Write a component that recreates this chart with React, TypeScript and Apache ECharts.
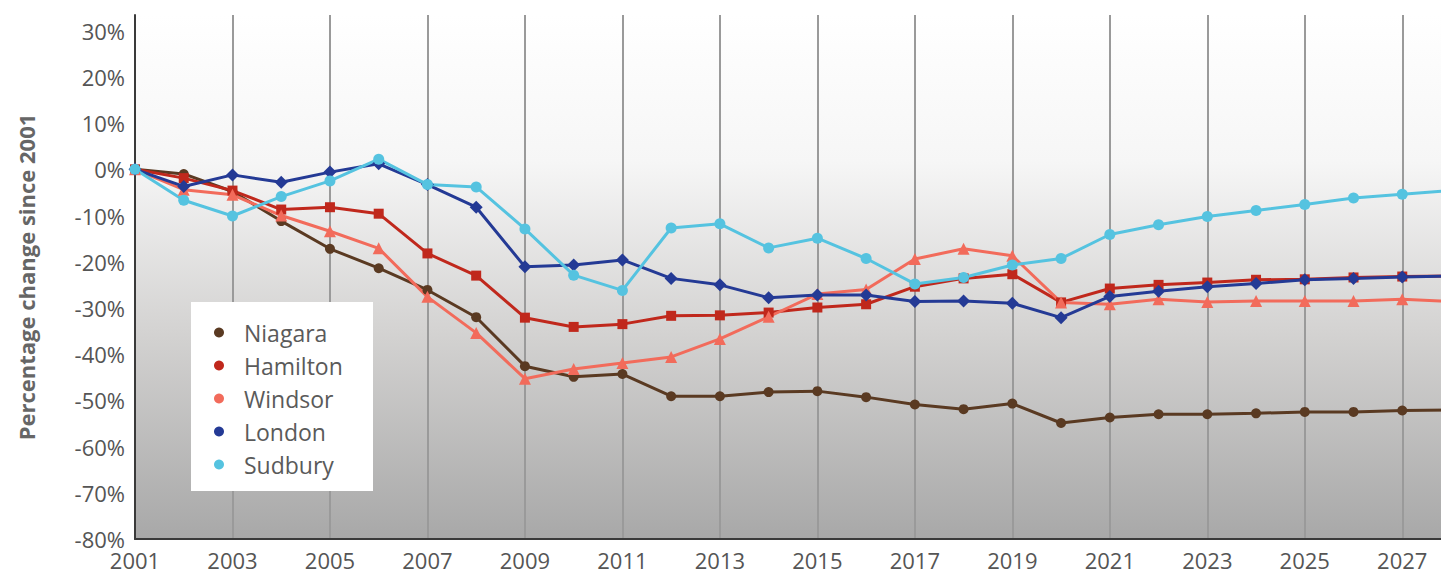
import React, { useEffect, useRef } from "react";
import * as echarts from "echarts";

const years = ["2001","2002","2003","2004","2005","2006","2007","2008","2009","2010","2011","2012","2013","2014","2015","2016","2017","2018","2019","2020","2021","2022","2023","2024","2025","2026","2027","2028"];

const niagara = [0, -1.0, -4.8, -11.2, -17.2, -21.4, -26.1, -32.0, -42.6, -44.9, -44.3, -49.1, -49.1, -48.2, -48.0, -49.3, -50.9, -51.9, -50.7, -54.9, -53.7, -53.0, -53.0, -52.8, -52.5, -52.5, -52.2, -52.1];
const hamilton = [0, -1.9, -4.6, -8.7, -8.2, -9.6, -18.2, -23.0, -32.1, -34.1, -33.5, -31.7, -31.6, -31.0, -29.9, -29.2, -25.4, -23.6, -22.7, -28.8, -25.8, -25.0, -24.5, -23.9, -23.8, -23.4, -23.2, -23.1];
const windsor = [0, -4.4, -5.5, -10.0, -13.4, -17.1, -27.6, -35.4, -45.3, -43.2, -41.9, -40.6, -36.7, -31.9, -27.0, -26.0, -19.4, -17.2, -18.7, -28.8, -29.2, -28.1, -28.7, -28.5, -28.5, -28.5, -28.1, -28.6];
const london = [0, -3.7, -1.2, -2.8, -0.6, 1.2, -3.3, -8.2, -21.1, -20.7, -19.6, -23.6, -25.0, -27.8, -27.2, -27.2, -28.6, -28.5, -29.0, -32.1, -27.5, -26.4, -25.4, -24.7, -23.9, -23.6, -23.3, -23.1];
const sudbury = [0, -6.7, -10.1, -5.9, -2.5, 2.2, -3.3, -3.8, -12.9, -22.9, -26.2, -12.7, -11.8, -17.0, -14.9, -19.3, -24.8, -23.4, -20.7, -19.3, -14.1, -12.0, -10.2, -8.9, -7.6, -6.2, -5.4, -4.6];

const seriesNames = ["Niagara", "Hamilton", "Windsor", "London", "Sudbury"];
const seriesColors = ["#5a3a22", "#c0281c", "#f26b5b", "#243a95", "#55c3e0"];
const seriesSymbols = ["circle", "rect", "triangle", "diamond", "circle"];
const seriesSizes = [10, 10, 12, 13, 11];
const seriesData = [niagara, hamilton, windsor, london, sudbury];

const FONT = "'Open Sans', 'Noto Sans', sans-serif";

export default function App() {
  const ref = useRef<HTMLDivElement>(null);
  useEffect(() => {
    if (!ref.current) return;
    const chart = echarts.init(ref.current, undefined, { renderer: "svg" });
    chart.setOption({
      animation: false,
      backgroundColor: "#ffffff",
      textStyle: { fontFamily: FONT },
      grid: {
        left: 135,
        right: 0,
        top: 15,
        bottom: 37,
        show: true,
        borderWidth: 0,
        backgroundColor: new echarts.graphic.LinearGradient(0, 0, 0, 1, [
          { offset: 0, color: "#ffffff" },
          { offset: 0.28, color: "#f6f6f6" },
          { offset: 0.6, color: "#d4d3d2" },
          { offset: 1, color: "#a8a8a8" },
        ]),
      },
      graphic: [
        {
          type: "rect",
          z: 3,
          shape: { x: 191, y: 302, width: 182, height: 189 },
          style: { fill: "#ffffff" },
        },
      ],
      legend: {
        orient: "vertical",
        left: 191,
        top: 302,
        padding: [19, 8, 19, 23],
        itemWidth: 10,
        itemHeight: 10,
        itemGap: 10,
        z: 4,
        icon: "circle",
        textStyle: { fontSize: 23, color: "#5a5a5a", fontFamily: FONT, lineHeight: 22, padding: [0, 0, 0, 15] },
        data: seriesNames.map((n) => ({ name: n, icon: "circle" })),
      },
      xAxis: {
        type: "category",
        data: years,
        boundaryGap: false,
        axisLine: { show: true, onZero: false, lineStyle: { color: "#3a3a3a", width: 2 } },
        axisTick: { show: false },
        axisLabel: { interval: 1, fontSize: 22, color: "#555555", margin: 10, fontFamily: FONT },
        splitLine: { show: true, interval: 1, lineStyle: { color: "#9a9a9a", width: 2 } },
      },
      yAxis: {
        type: "value",
        min: -80,
        max: 33.4,
        interval: 10,
        name: "Percentage change since 2001",
        nameLocation: "middle",
        nameGap: 98,
        nameTextStyle: { fontSize: 22, fontWeight: "bold", color: "#666666", fontFamily: FONT },
        axisLine: { show: true, lineStyle: { color: "#3a3a3a", width: 2 } },
        axisTick: { show: false },
        splitLine: { show: false },
        axisLabel: {
          fontSize: 22,
          color: "#555555",
          margin: 10,
          fontFamily: FONT,
          formatter: (v: number) => (Math.abs(v % 10) < 1e-6 ? `${v}%` : ""),
        },
      },
      series: seriesNames.map((name, i) => ({
        name,
        type: "line",
        data: seriesData[i],
        symbol: seriesSymbols[i],
        symbolSize: seriesSizes[i],
        showSymbol: true,
        clip: true,
        itemStyle: { color: seriesColors[i] },
        lineStyle: { color: seriesColors[i], width: 3 },
      })),
    });
    return () => chart.dispose();
  }, []);
  return (
    <div
      ref={ref}
      style={{ position: "fixed", left: 0, top: 0, width: 1451, height: 576 }}
    />
  );
}
